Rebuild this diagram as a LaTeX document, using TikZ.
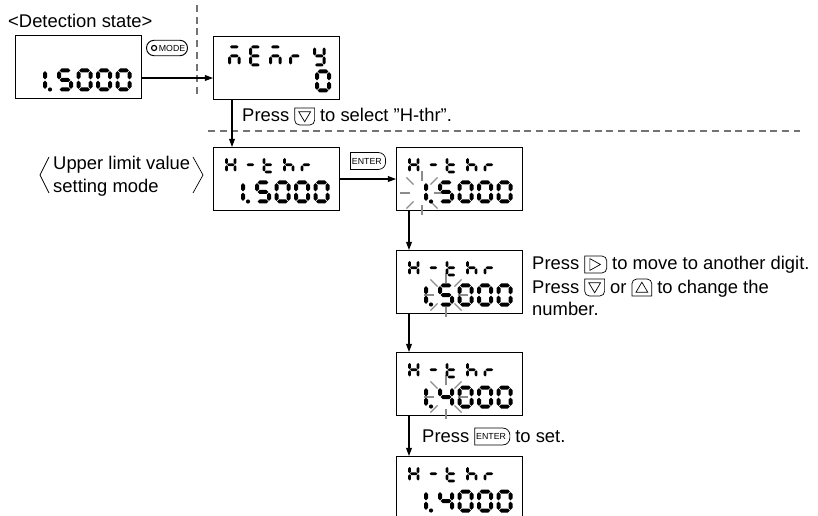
\documentclass[tikz,border=0pt]{standalone}
\usepackage{fontspec}
\setmainfont{Liberation Sans}
\usetikzlibrary{arrows.meta, positioning}

\tikzset{
  lcd/.style={draw, line width=0.9pt, anchor=north west, inner sep=0pt,
              minimum width=3.78cm, minimum height=1.89cm},
  arr/.style={line width=0.9pt, -{Triangle[length=7pt, width=5pt]}},
  guide/.style={draw=black!55, line width=1.1pt, dash pattern=on 6pt off 4pt},
  ray/.style={draw=black!45, line width=1.1pt},
  txt/.style={anchor=base west, inner sep=0pt},
}

% digit cells (px): centre-line width/height, half thickness, gap
\newcommand{\toprow}{\def\dw{8.5}\def\dh{14.5}\def\ht{1.4}\def\gp{0.5}}
\newcommand{\botrow}{\def\dw{12}\def\dh{19}\def\ht{2}\def\gp{0.55}}

\newcommand{\hseg}[3]{\fill ({#1+\gp},{#3}) -- ({#1+\gp+\ht},{#3-\ht})
  -- ({#2-\gp-\ht},{#3-\ht}) -- ({#2-\gp},{#3}) -- ({#2-\gp-\ht},{#3+\ht})
  -- ({#1+\gp+\ht},{#3+\ht}) -- cycle;}
\newcommand{\vseg}[3]{\fill ({#1},{#2+\gp}) -- ({#1+\ht},{#2+\gp+\ht})
  -- ({#1+\ht},{#3-\gp-\ht}) -- ({#1},{#3-\gp}) -- ({#1-\ht},{#3-\gp-\ht})
  -- ({#1-\ht},{#2+\gp+\ht}) -- cycle;}

\newcommand{\drawseg}[1]{%
  \if a#1\hseg{0}{\dw}{0}\fi
  \if b#1\vseg{\dw}{0}{\dh/2}\fi
  \if c#1\vseg{\dw}{\dh/2}{\dh}\fi
  \if d#1\hseg{0}{\dw}{\dh}\fi
  \if e#1\vseg{0}{\dh/2}{\dh}\fi
  \if f#1\vseg{0}{0}{\dh/2}\fi
  \if g#1\hseg{0}{\dw}{\dh/2}\fi}

\newcommand{\segs}[3]{\begin{scope}[shift={(#1,#2)}]
  \foreach \s in {#3}{\drawseg{\s}}\end{scope}}

\newcommand{\hthr}{\toprow
  \segs{13.5}{10.5}{b,c,e,f,g}\segs{33}{10.5}{g}\segs{51}{10.5}{d,e,f,g}
  \segs{71.5}{10.5}{c,e,f,g}\segs{89}{10.5}{e,g}}

\newcommand{\reading}[1]{\botrow
  \segs{18}{35.5}{b,c}\fill (35,54.5) circle (2.1);
  \segs{44}{35.5}{#1}\segs{63.5}{35.5}{a,b,c,d,e,f}
  \segs{83}{35.5}{a,b,c,d,e,f}\segs{102.5}{35.5}{a,b,c,d,e,f}}

\newcommand{\blink}[2]{\begin{scope}[shift={(#1,#2)}]
  \foreach \a in {0,45,...,315}{\draw[ray] (\a:12) -- (\a:22);}\end{scope}}

% keys
\newcommand{\keydown}{\tikz[baseline={(0,-4.7pt)}, line width=0.6pt, sharp corners]{%
  \draw (-8.5pt,7.2pt) -- (8.5pt,7.2pt) -- (8.5pt,-3.2pt)
    arc[start angle=0, end angle=-90, radius=4pt] -- (-4.5pt,-7.2pt)
    arc[start angle=270, end angle=180, radius=4pt] -- cycle;
  \draw (-5pt,4pt) -- (5pt,4pt) -- (0,-4.5pt) -- cycle;}}
\newcommand{\keyup}{\tikz[baseline={(0,-4.7pt)}, line width=0.6pt, sharp corners]{%
  \draw (-8.5pt,-7.2pt) -- (8.5pt,-7.2pt) -- (8.5pt,3.2pt)
    arc[start angle=0, end angle=90, radius=4pt] -- (-4.5pt,7.2pt)
    arc[start angle=90, end angle=180, radius=4pt] -- cycle;
  \draw (-5pt,-4pt) -- (5pt,-4pt) -- (0,4.5pt) -- cycle;}}
\newcommand{\keyright}{\tikz[baseline={(0,-4.7pt)}, line width=0.6pt, sharp corners]{%
  \draw (-9.4pt,-7.2pt) -- (-9.4pt,7.2pt) -- (5.4pt,7.2pt)
    arc[start angle=90, end angle=0, radius=4pt] -- (9.4pt,-3.2pt)
    arc[start angle=0, end angle=-90, radius=4pt] -- cycle;
  \draw (-5pt,5pt) -- (4pt,0) -- (-5pt,-5pt) -- cycle;}}
\newcommand{\enterkey}{\tikz[baseline={(0,-4.7pt)}, line width=0.6pt, sharp corners]{%
  \draw (-15pt,-7.2pt) -- (-15pt,7.2pt) -- (9pt,7.2pt)
    arc[start angle=90, end angle=0, radius=6pt] -- (15pt,-1.2pt)
    arc[start angle=0, end angle=-90, radius=6pt] -- cycle;
  \node[inner sep=0pt, anchor=center, font=\fontsize{7.5}{8}\selectfont] (entlbl) at (-1pt,0) {ENTER};}}
\newcommand{\modekey}{\tikz[baseline={(0,-4.7pt)}, line width=0.8pt]{%
  \draw[rounded corners=6.5pt] (-17.5pt,-6.6pt) rectangle (17.5pt,6.6pt);
  \draw[line width=1pt] (-11pt,0) circle (2.2pt);
  \node[inner sep=0pt, anchor=center, font=\fontsize{7.5}{8}\selectfont] (modelbl) at (4.3pt,0) {MODE};}}

\begin{document}
\begin{tikzpicture}[x=0.03cm, y=-0.03cm, font=\fontsize{15.7}{18}\selectfont]
  \useasboundingbox (0,0) rectangle (818,516);
  \clip (0,0) rectangle (818,516);
  % mode borders
  \draw[guide] (197,5) -- (197,98);
  \draw[guide] (208,131) -- (800,131);

  % displays
  \node[lcd] (b1) at (15,35) {};
  \node[lcd] (b2) at (213,36) {};
  \node[lcd] (b3) at (213,147) {};
  \node[lcd] (b4) at (396,147) {};
  \node[lcd] (b5) at (396,250) {};
  \node[lcd] (b6) at (396,352) {};
  \node[lcd] (b7) at (396,456) {};

  \begin{scope}[shift={(b1.north west)}]
    \reading{a,c,d,f,g}
  \end{scope}
  \begin{scope}[shift={(b2.north west)}]
    \def\dw{9.5}\def\dh{18}\def\ht{1.5}\def\gp{0.5}
    \segs{16.5}{11}{a,c,e,g}\segs{37.5}{11}{a,d,e,f,g}\segs{57.5}{11}{a,c,e,g}
    \segs{77.5}{11}{e,g}\segs{101.5}{11}{b,c,d,f,g}
    \botrow
    \segs{104}{35.5}{a,b,c,d,e,f}
  \end{scope}
  \begin{scope}[shift={(b3.north west)}]
    \hthr \reading{a,c,d,f,g}
  \end{scope}
  \begin{scope}[shift={(b4.north west)}]
    \blink{26}{46} \hthr \reading{a,c,d,f,g}
  \end{scope}
  \begin{scope}[shift={(b5.north west)}]
    \blink{50}{45} \hthr \reading{a,c,d,f,g}
  \end{scope}
  \begin{scope}[shift={(b6.north west)}]
    \blink{50}{45} \hthr \reading{b,c,f,g}
  \end{scope}
  \begin{scope}[shift={(b7.north west)}]
    \hthr \reading{b,c,f,g}
  \end{scope}

  % keys
  \node[inner sep=0pt] (mode) at (167,48) {\modekey};
  \node[inner sep=0pt] (enter) at (368,161) {\enterkey};

  % flow
  \coordinate (r1) at (0,78);
  \coordinate (c2) at (232,0);
  \coordinate (c4) at (409,0);
  \draw[arr] (b1.east |- r1) -- (b2.west |- r1);
  \draw[arr] (b2.south -| c2) -- (b3.north -| c2);
  \draw[arr] (b3.east) -- (b4.west);
  \draw[arr] (b4.south -| c4) -- (b5.north -| c4);
  \draw[arr] (b5.south -| c4) -- (b6.north -| c4);
  \draw[arr] (b6.south -| c4) -- (b7.north -| c4);

  % texts
  \node[txt] (det) at (8,28) {<Detection state>};
  \node[txt] (sel) at (242,122) {Press \keydown{} to select \symbol{34}H-thr\symbol{34}.};
  \node[txt] (ul1) at (53,170) {Upper limit value};
  \node[txt] (ul2) at (53,193) {setting mode};
  \draw[line width=0.6pt] (49,157) -- (40,175) -- (49,193);
  \draw[line width=0.6pt] (193,157) -- (203,175) -- (193,193);
  \node[txt] (tip1) at (532,270) {Press \keyright{} to move to another digit.};
  \node[txt] (tip2) at (532,293) {Press \keydown{} or \keyup{} to change the};
  \node[txt] (tip3) at (532,316) {number.};
  \node[txt] (set) at (422,442) {Press \enterkey{} to set.};
\end{tikzpicture}
\end{document}
